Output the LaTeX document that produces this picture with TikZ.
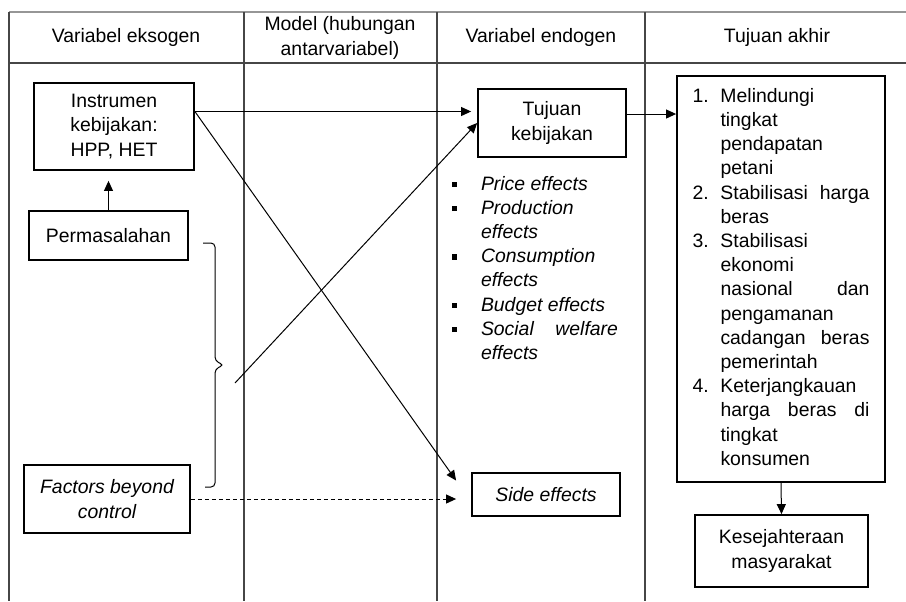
\documentclass[tikz,border=0pt]{standalone}
\usepackage{fontspec}
\setmainfont{Liberation Sans}
\usepackage{array}
\definecolor{rulegray}{RGB}{150,150,150}
\definecolor{linegray}{RGB}{70,70,70}
\newcommand{\figfont}{\fontsize{9.7pt}{12.1pt}\selectfont}
\newcommand{\sqbullet}{\rule[1.6pt]{2.6pt}{2.6pt}}
\usetikzlibrary{arrows.meta,positioning,calc}

\begin{document}
\begin{tikzpicture}[x=0.5pt, y=-0.5pt,
    boxstyle/.style={rectangle, draw, line width=0.9pt, inner sep=0pt, font=\figfont},
    headstyle/.style={font=\figfont, align=center, inner sep=0pt},
    gridline/.style={linegray, line width=0.6pt},
    >={Triangle[length=5pt,width=4.5pt]}
  ]
    \useasboundingbox (0,0) rectangle (906,601);

    % Table frame
    \draw[rulegray, line width=1.2pt] (9,12) -- (906,12);
    \draw[gridline] (9,63) -- (906,63);
    \foreach \x in {9,244,437,645}
      \draw[gridline] (\x,12) -- (\x,601);

    % Column headers
    \node[headstyle] (h1) at (126,37) {Variabel eksogen};
    \node[headstyle] (h2) at (340,38) {Model (hubungan\\antarvariabel)};
    \node[headstyle] (h3) at (541,37) {Variabel endogen};
    \node[headstyle] (h4) at (777,37) {Tujuan akhir};

    % Exogenous column
    \node[boxstyle, align=center, minimum width=80pt, minimum height=43.5pt] (instr) at (114,126.5)
      {Instrumen\\kebijakan:\\HPP, HET};
    \node[boxstyle, minimum width=79.5pt, minimum height=24.5pt] (perm) at (108.5,235.5) {Permasalahan};
    \node[boxstyle, align=center, font=\figfont\itshape, minimum width=83pt, minimum height=34pt] (faktor) at (107,499)
      {Factors beyond\\control};

    % Endogenous column
    \node[boxstyle, align=center, minimum width=74pt, minimum height=34pt] (tujuan) at (552,123) {Tujuan\\kebijakan};
    \node[font=\figfont, inner sep=0pt] (efek) at (535,270) {%
      \begin{tabular}{@{}p{14.5pt}@{}>{\itshape}p{68.5pt}@{}}
        \sqbullet & Price effects\\
        \sqbullet & Production\\
                  & effects\\
        \sqbullet & Consumption\\
                  & effects\\
        \sqbullet & Budget effects\\
        \sqbullet & Social\hfill welfare\\
                  & effects
      \end{tabular}};
    \node[boxstyle, font=\figfont\itshape, minimum width=74pt, minimum height=21.5pt] (side) at (546,494.5) {Side effects};

    % Final goals column
    \node[boxstyle, minimum width=104pt, minimum height=203pt] (akhir) at (781,279) {%
      \begin{tabular}{@{}p{14pt}@{}p{74.5pt}@{}}
        1. & Melindungi\\
           & tingkat\\
           & pendapatan\\
           & petani\\
        2. & Stabilisasi\hfill harga\\
           & beras\\
        3. & Stabilisasi\\
           & ekonomi\\
           & nasional\hfill dan\\
           & pengamanan\\
           & cadangan\hfill beras\\
           & pemerintah\\
        4. & Keterjangkauan\\
           & harga\hfill beras\hfill di\\
           & tingkat\\
           & konsumen
      \end{tabular}};
    \node[boxstyle, align=center, minimum width=86.5pt, minimum height=36pt] (sejahtera) at (781.5,551)
      {Kesejahteraan\\masyarakat};

    % Brace over the exogenous factors
    \draw[line width=0.5pt, rounded corners=2pt]
      (203,243) -- (215,243) -- (215,361) -- (224,365) -- (215,369) -- (215,487) -- (205,487);
    \coordinate (kurung) at (235,383);
    \coordinate (instrout) at ([yshift=7.5pt]instr.east);

    % Connectors
    \draw[->, line width=0.5pt] (perm.north) -- ([yshift=-5pt]perm.north |- instr.south);
    \draw[->, line width=0.5pt, shorten >=3pt] (instrout) -- (instrout -| tujuan.west);
    \draw[->, line width=0.5pt] (instrout) -- ([xshift=-7.5pt,yshift=7pt]side.west);
    \draw[->, line width=0.5pt] (kurung) -- (tujuan.west);
    \draw[->, line width=0.5pt, dash pattern=on 2pt off 1.5pt, shorten >=7.5pt] (faktor.east) -- (faktor.east -| side.west);
    \draw[->, line width=0.5pt] ([yshift=4.5pt]tujuan.east) -- ([yshift=4.5pt]tujuan.east -| akhir.west);
    \draw[->, line width=0.5pt] (akhir.south) -- (sejahtera.north);
\end{tikzpicture}
\end{document}
